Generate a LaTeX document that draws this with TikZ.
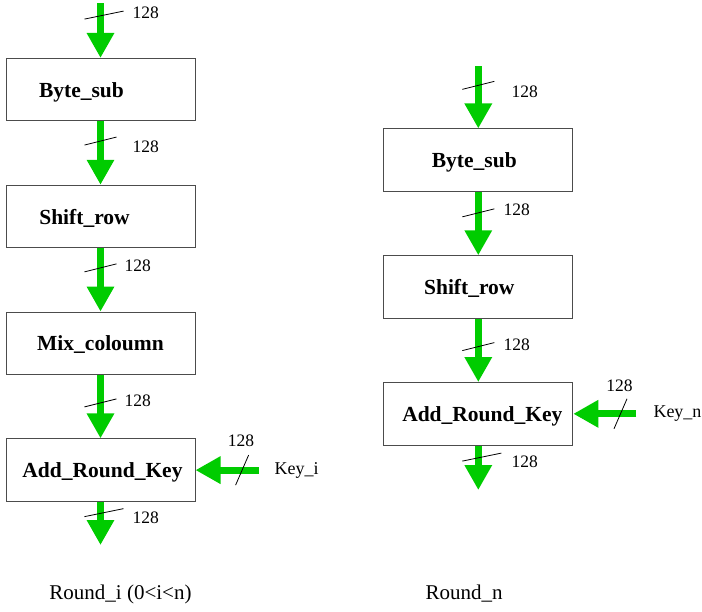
\documentclass[tikz,border=0pt]{standalone}
\usepackage{fontspec}
\setmainfont{Liberation Serif}
\usepackage{xcolor}
\usepackage{tikz}
\usetikzlibrary{arrows.meta,positioning,calc}
\definecolor{flowgreen}{RGB}{0,204,0}

\begin{document}
\begin{tikzpicture}
  [x=1pt,y=-1pt,
  block/.style={rectangle,draw=black!70,line width=1pt,minimum width=189pt,minimum height=62.5pt,inner sep=0pt,text depth=0pt,font=\fontsize{21.5}{24}\selectfont\bfseries},
  flow/.style={draw=flowgreen,line width=7pt,-{Triangle[length=25pt,width=26pt]}},
  bus/.style={black,line width=0.8pt},
  bits/.style={font=\fontsize{17.5}{20}\selectfont,inner sep=0pt},
  keytext/.style={font=\fontsize{18}{20}\selectfont,inner sep=0pt},
  caption/.style={font=\fontsize{21}{24}\selectfont,inner sep=0pt},
  node distance=63.3pt
  ]
  \useasboundingbox (0,0) rectangle (702,611);

  % Round_i
  \node[block] (bytesub i) at (100.5,89.7) {\hspace*{-38pt}Byte\_sub};
  \node[block] (shiftrow i) [below = of bytesub i] {\hspace*{-32pt}Shift\_row};
  \node[block] (mixcol i) [below = of shiftrow i] {Mix\_coloumn};
  \node[block] (addkey i) [below = of mixcol i] {\hspace*{4pt}Add\_Round\_Key};
  \node[keytext] (key i) [right = 79pt of addkey i] {Key\_i};
  \coordinate (in i) at (100.5,3);
  \coordinate (out i) at (100.5,545);

  \draw[flow] (in i) -- coordinate[pos=.22] (t0) (bytesub i);
  \draw[flow] (bytesub i) -- coordinate[pos=.31] (t1) (shiftrow i);
  \draw[flow] (shiftrow i) -- coordinate[pos=.31] (t2) (mixcol i);
  \draw[flow] (mixcol i) -- coordinate[pos=.44] (t3) (addkey i);
  \draw[flow] (addkey i) -- coordinate[pos=.25] (t4) (out i);
  \draw[flow,shorten <=16pt] (key i) -- coordinate[pos=.41] (tk) (addkey i);

  \draw[bus] ($(t0)+(-16,4)$) -- ($(t0)+(23,-4)$);
  \node[bits,anchor=west] (t0 lbl) at ($(t0)+(32,-2)$) {128};
  \draw[bus] ($(t1)+(-16,4)$) -- ($(t1)+(16,-4)$);
  \node[bits,anchor=west] (t1 lbl) at ($(t1)+(32,6)$) {128};
  \draw[bus] ($(t2)+(-16,4)$) -- ($(t2)+(16,-4)$);
  \node[bits,anchor=west] (t2 lbl) at ($(t2)+(24,-2)$) {128};
  \draw[bus] ($(t3)+(-16,4)$) -- ($(t3)+(16,-4)$);
  \node[bits,anchor=west] (t3 lbl) at ($(t3)+(24,-2)$) {128};
  \draw[bus] ($(t4)+(-16,4)$) -- ($(t4)+(23,-4)$);
  \node[bits,anchor=west] (t4 lbl) at ($(t4)+(32,5)$) {128};
  \draw[bus] ($(tk)+(-6.5,15)$) -- ($(tk)+(6.5,-15)$);
  \node[bits] (tk lbl) at ($(tk)+(-1,-29)$) {128};

  % Round_n
  \node[block] (bytesub n) at (478.3,160.2) {\hspace*{-8pt}Byte\_sub};
  \node[block] (shiftrow n) [below = of bytesub n] {\hspace*{-18pt}Shift\_row};
  \node[block] (addkey n) [below = of shiftrow n] {\hspace*{8pt}Add\_Round\_Key};
  \node[keytext] (key n) [right = 80pt of addkey n] {Key\_n};
  \coordinate (in n) at (478.3,66);
  \coordinate (out n) at (478.3,490);

  \draw[flow] (in n) -- coordinate[pos=.31] (u0) (bytesub n);
  \draw[flow] (bytesub n) -- coordinate[pos=.33] (u1) (shiftrow n);
  \draw[flow] (shiftrow n) -- coordinate[pos=.44] (u2) (addkey n);
  \draw[flow] (addkey n) -- coordinate[pos=.26] (u3) (out n);
  \draw[flow,shorten <=17pt] (key n) -- coordinate[pos=.41] (uk) (addkey n);

  \draw[bus] ($(u0)+(-16,4)$) -- ($(u0)+(16,-4)$);
  \node[bits,anchor=west] (u0 lbl) at ($(u0)+(33,6)$) {128};
  \draw[bus] ($(u1)+(-16,4)$) -- ($(u1)+(16,-4)$);
  \node[bits,anchor=west] (u1 lbl) at ($(u1)+(25,-3)$) {128};
  \draw[bus] ($(u2)+(-16,4)$) -- ($(u2)+(16,-4)$);
  \node[bits,anchor=west] (u2 lbl) at ($(u2)+(25,-2)$) {128};
  \draw[bus] ($(u3)+(-16,4)$) -- ($(u3)+(23,-4)$);
  \node[bits,anchor=west] (u3 lbl) at ($(u3)+(33,5)$) {128};
  \draw[bus] ($(uk)+(-6.5,15)$) -- ($(uk)+(6.5,-15)$);
  \node[bits] (uk lbl) at ($(uk)+(-1,-28)$) {128};

  \node[caption] (round i) at (120.5,594) {Round\_i (0<i<n)};
  \node[caption] (round n) at (464,594) {Round\_n};
\end{tikzpicture}
\end{document}
